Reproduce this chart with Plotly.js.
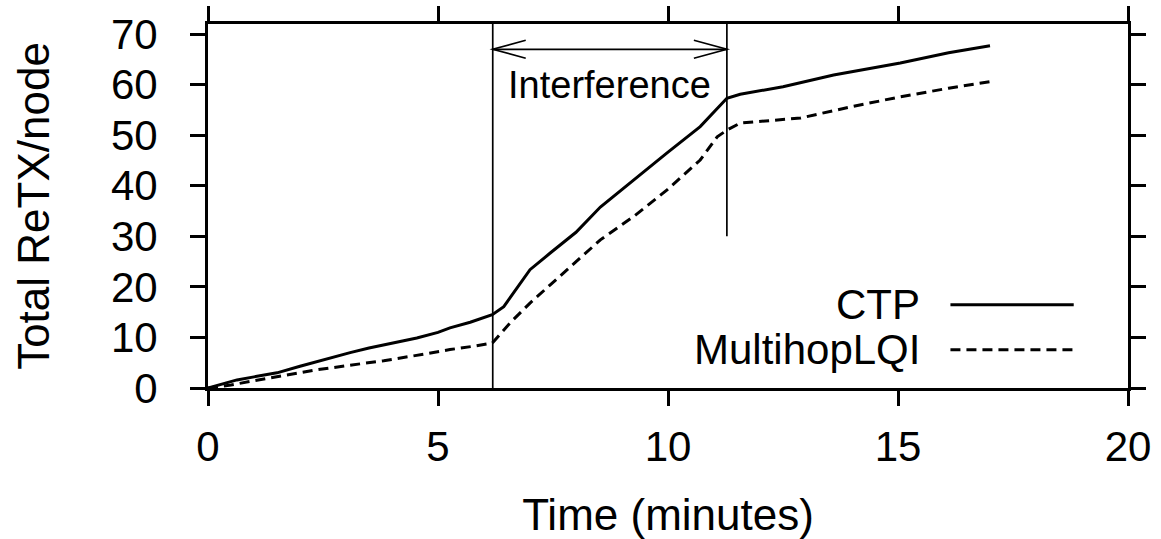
<!DOCTYPE html>
<html>
<head>
<meta charset="utf-8">
<script src="https://cdn.plot.ly/plotly-3.0.1.min.js"></script>
<style>
  html, body { margin: 0; padding: 0; background: #fff; }
  #chart { width: 1161px; height: 539px; }
</style>
</head>
<body>
<div id="chart"></div>
<script>
// ---- data ----
const ctpTime = [0, 0.3, 0.63, 1.0, 1.5, 2.0, 2.5, 3.09, 3.5, 4.0, 4.54, 5.0, 5.26, 5.7, 6.18, 6.43, 6.7, 7.0, 7.44, 8.0, 8.53, 9.25, 9.98, 10.7, 11.28, 11.57, 12.5, 13.6, 15.05, 16.1, 17.0];
const ctpRetx = [0, 0.7, 1.6, 2.2, 3.0, 4.3, 5.6, 7.0, 7.9, 8.9, 9.9, 11.0, 11.9, 13.0, 14.5, 16.1, 19.5, 23.4, 26.7, 30.8, 35.8, 41.2, 46.5, 51.7, 57.3, 58.1, 59.6, 61.9, 64.3, 66.3, 67.7];
const lqiTime = [0, 0.5, 0.92, 1.5, 2.37, 3.0, 3.82, 4.5, 5.26, 5.8, 6.18, 6.57, 7.0, 7.44, 8.0, 8.53, 9.25, 9.98, 10.7, 11.07, 11.28, 11.57, 12.88, 13.97, 15.05, 16.1, 17.0];
const lqiRetx = [0, 0.6, 1.3, 2.2, 3.6, 4.4, 5.4, 6.4, 7.6, 8.3, 8.9, 12.9, 16.8, 20.4, 25.0, 29.3, 33.9, 39.2, 45.1, 49.7, 51.0, 52.4, 53.4, 55.6, 57.6, 59.3, 60.6];
const seriesNames = ["CTP", "MultihopLQI"];
const xTicks = [0, 5, 10, 15, 20];
const yTicks = [0, 10, 20, 30, 40, 50, 60, 70];
const interference = [6.19, 11.28];   // start / end of interference (minutes)
const interferenceLabel = "Interference";
const arrowLevel = 67;                 // y value of the double arrow
const endMarkerBottom = 30;            // lower end of the end-of-interference line

// ---- styling ----
const FONT = '"Liberation Sans", Arial, Helvetica, sans-serif';
const dashPat = "10px,6px";

const traces = [
  { x: ctpTime, y: ctpRetx, name: seriesNames[0], mode: "lines",
    line: { color: "#000", width: 3 }, showlegend: false, hoverinfo: "skip" },
  { x: lqiTime, y: lqiRetx, name: seriesNames[1], mode: "lines",
    line: { color: "#000", width: 3, dash: dashPat }, showlegend: false, hoverinfo: "skip" }
];

const legX0 = 0.807, legX1 = 0.941, legTextX = 0.776;
const legY = [0.229, 0.105];

const shapes = [
  { type: "line", xref: "x", yref: "paper", x0: interference[0], x1: interference[0], y0: 0, y1: 1,
    line: { color: "#000", width: 1.7 } },
  { type: "line", xref: "x", yref: "y", x0: interference[1], x1: interference[1], y0: endMarkerBottom, y1: 72,
    line: { color: "#000", width: 1.7 } },
  { type: "line", xref: "x", yref: "y", x0: interference[0], x1: interference[1], y0: arrowLevel, y1: arrowLevel,
    line: { color: "#000", width: 1.7 } },
  { type: "path", xref: "x", yref: "y", xsizemode: "pixel", ysizemode: "pixel",
    xanchor: interference[0], yanchor: arrowLevel, path: "M33,9 L0,0 L33,-9",
    line: { color: "#000", width: 1.7 } },
  { type: "path", xref: "x", yref: "y", xsizemode: "pixel", ysizemode: "pixel",
    xanchor: interference[1], yanchor: arrowLevel, path: "M-33,9 L0,0 L-33,-9",
    line: { color: "#000", width: 1.7 } },
  // legend samples
  { type: "line", xref: "paper", yref: "paper", x0: legX0, x1: legX1, y0: legY[0], y1: legY[0],
    line: { color: "#000", width: 3 } },
  { type: "line", xref: "paper", yref: "paper", x0: legX0, x1: legX1, y0: legY[1], y1: legY[1],
    line: { color: "#000", width: 3, dash: dashPat } }
];

const annotations = [
  { x: (interference[0] + interference[1]) / 2, y: 60.0, xref: "x", yref: "y",
    text: interferenceLabel, showarrow: false, font: { family: FONT, size: 38, color: "#000" } },
  { x: legTextX, y: legY[0], xref: "paper", yref: "paper", xanchor: "right", yanchor: "middle",
    text: seriesNames[0], showarrow: false, font: { family: FONT, size: 42, color: "#000" } },
  { x: legTextX, y: legY[1], xref: "paper", yref: "paper", xanchor: "right", yanchor: "middle",
    text: seriesNames[1], showarrow: false, font: { family: FONT, size: 42, color: "#000" } }
];

const axisCommon = {
  showline: true, linecolor: "#000", linewidth: 3, mirror: "ticks",
  ticks: "outside", ticklen: 15, tickwidth: 3, tickcolor: "#000",
  showgrid: false, zeroline: false, tickmode: "array",
  tickfont: { family: FONT, size: 42, color: "#000" }
};

const layout = {
  width: 1161, height: 539,
  margin: { l: 208, r: 33, t: 24, b: 151 },
  paper_bgcolor: "#fff", plot_bgcolor: "#fff",
  font: { family: FONT, color: "#000" },
  showlegend: false,
  xaxis: Object.assign({}, axisCommon, {
    range: [0, 20], tickvals: xTicks, ticktext: xTicks.map(String), ticklabelstandoff: 5,
    title: { text: "Time (minutes)", font: { family: FONT, size: 44, color: "#000" }, standoff: 34 }
  }),
  yaxis: Object.assign({}, axisCommon, {
    range: [0, 72], tickvals: yTicks, ticktext: yTicks.map(String), ticklabelstandoff: 24,
    title: { text: "Total ReTX/node", font: { family: FONT, size: 44, color: "#000" }, standoff: 48 }
  }),
  shapes: shapes,
  annotations: annotations
};

Plotly.newPlot("chart", traces, layout, { staticPlot: true, displayModeBar: false });
</script>
</body>
</html>
